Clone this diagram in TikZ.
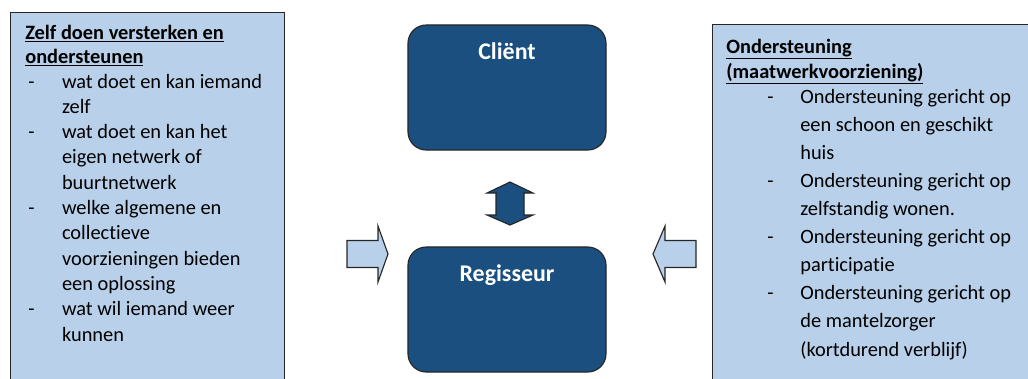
\documentclass[tikz,border=0pt]{standalone}
\usepackage{fontspec}
\setmainfont[Ligatures=NoCommon]{Carlito}
\usetikzlibrary{positioning, calc}
\definecolor{panelblue}{RGB}{185, 208, 234}
\definecolor{roleblue}{RGB}{26, 79, 128}

\begin{document}
\begin{tikzpicture}[x=0.025cm, y=-0.025cm,
    panel/.style={draw=black!85, fill=panelblue, line width=0.8pt, anchor=north west},
    role/.style={draw=black!85, fill=roleblue, rounded corners=13pt, line width=0.8pt,
                 minimum width=4.95cm, minimum height=3.125cm},
    roletitle/.style={text=white, font=\fontsize{17}{20}\selectfont\bfseries, anchor=base, inner sep=0pt},
    blockarrow/.style={draw=black!85, line width=0.8pt, line join=miter},
    items/.style={anchor=base west, inner sep=0pt}]
  \clip (0,0) rectangle (1028,378);

  % side panels
  \node[panel, minimum width=6.85cm, minimum height=9.6cm] (selfpanel) at (10,12) {};
  \node[panel, minimum width=8.4cm, minimum height=9.3cm]  (carepanel) at (712,24) {};

  \node[items, font=\fontsize{14.5}{17.2}\selectfont\bfseries] (selftitle) at (25,39)
    {\begin{tabular}[t]{@{}l@{}}\underline{Zelf doen versterken en}\\\underline{ondersteunen}\end{tabular}};
  \node[items, font=\fontsize{14.5}{18}\selectfont] (selflist) at (28,88)
    {\begin{tabular}[t]{@{}p{24pt}@{}l@{}}
      - & wat doet en kan iemand\\
        & zelf\\
      - & wat doet en kan het\\
        & eigen netwerk of\\
        & buurtnetwerk\\
      - & welke algemene en\\
        & collectieve\\
        & voorzieningen bieden\\
        & een oplossing\\
      - & wat wil iemand weer\\
        & kunnen
    \end{tabular}};

  \node[items, font=\fontsize{14.5}{17.8}\selectfont\bfseries] (caretitle) at (726,53)
    {\begin{tabular}[t]{@{}l@{}}\underline{Ondersteuning}\\\underline{(maatwerkvoorziening)}\end{tabular}};
  \node[items, font=\fontsize{14.5}{20}\selectfont] (carelist) at (767,103)
    {\begin{tabular}[t]{@{}p{23.5pt}@{}l@{}}
      - & Ondersteuning gericht op\\
        & een schoon en geschikt\\
        & huis\\
      - & Ondersteuning gericht op\\
        & zelfstandig wonen.\\
      - & Ondersteuning gericht op\\
        & participatie\\
      - & Ondersteuning gericht op\\
        & de mantelzorger\\
        & (kortdurend verblijf)
    \end{tabular}};

  % roles in the middle
  \node[role] (client)    at (507,87.5)  {};
  \node[role] (regisseur) at (507,309.5) {};
  \node[roletitle] (clientname)    at ($(client.north)+(0,35.5)$)    {Cliënt};
  \node[roletitle] (regisseurname) at ($(regisseur.north)+(0,35)$)   {Regisseur};

  % block arrows
  \coordinate (linktop) at (510,182);
  \coordinate (leftin)  at (347,254);
  \coordinate (rightin) at (696,254);
  \draw[blockarrow, fill=roleblue] (linktop) -- ++(23,11) -- ++(-9,0) -- ++(0,22) -- ++(9,0)
    -- ++(-23,10) -- ++(-23,-10) -- ++(9,0) -- ++(0,-22) -- ++(-9,0) -- cycle;
  \draw[blockarrow, fill=panelblue] (leftin) ++(0,-13.5) -- ++(31,0) -- ++(0,-14.5) -- ++(10,28)
    -- ++(-10,28) -- ++(0,-14.5) -- ++(-31,0) -- cycle;
  \draw[blockarrow, fill=panelblue] (rightin) ++(0,-13.5) -- ++(-31,0) -- ++(0,-14.5) -- ++(-12,28)
    -- ++(12,28) -- ++(0,-14.5) -- ++(31,0) -- cycle;
\end{tikzpicture}
\end{document}
